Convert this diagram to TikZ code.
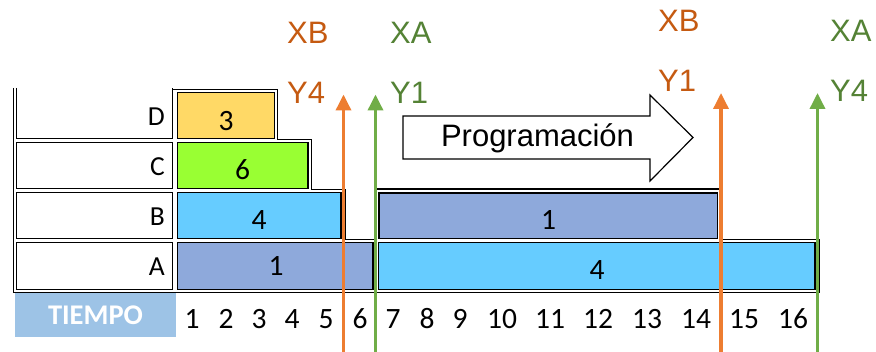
\documentclass[tikz,border=0pt]{standalone}
\usepackage{fontspec}
\setmainfont{Carlito}
\newfontfamily\arialfont{Liberation Sans}
\usetikzlibrary{arrows.meta}
\definecolor{barblue}{HTML}{8EA9DB}
\definecolor{barcyan}{HTML}{66CCFF}
\definecolor{baryellow}{HTML}{FFD966}
\definecolor{bargreen}{HTML}{99FF33}
\definecolor{tiempoblue}{HTML}{9DC3E6}
\definecolor{arroworange}{HTML}{ED7D31}
\definecolor{arrowgreen}{HTML}{70AD47}
\definecolor{textorange}{HTML}{C55A11}
\definecolor{textgreen}{HTML}{548235}
\begin{document}
\begin{tikzpicture}[x=1pt,y=-1pt,
  cell/.style={rectangle, draw=black, line width=1.8pt, inner sep=0pt, outer sep=0pt},
  frame/.style={draw=black, line width=1.5pt},
  rowlabel/.style={anchor=base east, inner sep=0pt, font=\fontsize{27.5}{27.5}\selectfont},
  barnum/.style={anchor=base, inner sep=0pt, font=\fontsize{29.5}{29.5}\selectfont},
  axisnum/.style={anchor=base, inner sep=0pt, font=\fontsize{29.5}{29.5}\selectfont},
  orangetxt/.style={anchor=base west, inner sep=0pt, text=textorange, font=\arialfont\fontsize{31}{31}\selectfont},
  greentxt/.style={anchor=base west, inner sep=0pt, text=textgreen, font=\arialfont\fontsize{31}{31}\selectfont},
  marker/.style={line width=3.5pt, -{Triangle[width=15pt,length=16pt]}},
]
\useasboundingbox (0,0) rectangle (876,352);

% outer staircase frame of the table
\draw[frame] (13.5,88) -- (13.5,292.5) -- (819,292.5) -- (819,239.5) -- (720.5,239.5)
  -- (720.5,189) -- (375.5,189) -- (375.5,239.5) -- (345,239.5) -- (345,189.5)
  -- (311.5,189.5) -- (311.5,139.5) -- (277.5,139.5) -- (277.5,89.5) -- (172.5,89.5);

% row label cells (the top one is open at the top)
\node[rectangle, inner sep=0pt, outer sep=0pt, minimum width=156pt, minimum height=50.5pt] (lD) at (94.5,113.25) {};
\draw[black, line width=1.8pt] (lD.north west) -- (lD.south west) -- (lD.south east) -- (lD.north east);
\node[cell, fill=white, minimum width=156pt, minimum height=46pt] (lC) at (94.5,165.5) {};
\node[cell, fill=white, minimum width=156pt, minimum height=46pt] (lB) at (94.5,215.5) {};
\node[cell, fill=white, minimum width=156pt, minimum height=47pt] (lA) at (94.5,266) {};

\node[rowlabel] (tD) at (165,125.5) {D};
\node[rowlabel] (tC) at (165,175.5) {C};
\node[rowlabel] (tB) at (165,225.5) {B};
\node[rowlabel] (tA) at (165,275.5) {A};

% task bars
\node[cell, fill=baryellow, minimum width=97pt, minimum height=46pt] (barD) at (226,115.5) {};
\node[cell, fill=bargreen, minimum width=130.5pt, minimum height=46pt] (barC) at (242.75,165.5) {};
\node[cell, fill=barcyan, minimum width=163.5pt, minimum height=46pt] (barB1) at (259.25,215.5) {};
\node[cell, fill=barblue, minimum width=195.5pt, minimum height=47pt] (barA1) at (275.25,266) {};
\node[cell, fill=barblue, minimum width=338.5pt, minimum height=45.5pt] (barB2) at (548.25,215.75) {};
\node[cell, fill=barcyan, minimum width=436.5pt, minimum height=47pt] (barA2) at (596.75,266) {};

\node[barnum] (nD) at (226,130.5) {3};
\node[barnum] (nC) at (242.5,180) {6};
\node[barnum] (nB1) at (259,230) {4};
\node[barnum] (nA1) at (276,276) {1};
\node[barnum] (nB2) at (548.5,230) {1};
\node[barnum] (nA2) at (597,280) {4};

% time axis
\node[rectangle, fill=tiempoblue, inner sep=0pt, minimum width=161pt, minimum height=43.5pt,
  text=white, font=\bfseries\fontsize{28.5}{28.5}\selectfont] (tiempo) at (95.5,315.25) {TIEMPO};
\foreach \n/\x in {1/192,2/226,3/259,4/292,5/326,6/360,7/393,8/427,9/460,
                   10/502,11/550,12/598,13/647,14/696,15/744,16/793}
  \node[axisnum] (ax\n) at (\x,328.3) {\n};

% scheduling direction arrow
\draw[black, line width=1.2pt, fill=white] (403,116) -- (650,116) -- (650,95) -- (693,137.5)
  -- (650,181) -- (650,159) -- (403,159) -- cycle;
\node[anchor=base, inner sep=0pt, font=\arialfont\fontsize{31}{31}\selectfont] (prog) at (537.5,146.7) {Programación};

% event markers
\coordinate (o1b) at (343.5,352); \coordinate (o1t) at (343.5,94.5);
\coordinate (g1b) at (375.5,352); \coordinate (g1t) at (375.5,94.5);
\coordinate (o2b) at (721,352);   \coordinate (o2t) at (721,93);
\coordinate (g2b) at (817.5,352); \coordinate (g2t) at (817.5,93);
\draw[marker, arroworange] (o1b) -- (o1t);
\draw[marker, arrowgreen] (g1b) -- (g1t);
\draw[marker, arroworange] (o2b) -- (o2t);
\draw[marker, arrowgreen] (g2b) -- (g2t);

\node[orangetxt] (xb1) at (287,43.3) {XB};
\node[orangetxt] (y41) at (287,103.3) {Y4};
\node[greentxt] (xa1) at (390,43.3) {XA};
\node[greentxt] (y11) at (390,103.3) {Y1};
\node[orangetxt] (xb2) at (658,31.7) {XB};
\node[orangetxt] (y12) at (658,91.7) {Y1};
\node[greentxt] (xa2) at (830,41.7) {XA};
\node[greentxt] (y42) at (830,101.7) {Y4};
\end{tikzpicture}
\end{document}
